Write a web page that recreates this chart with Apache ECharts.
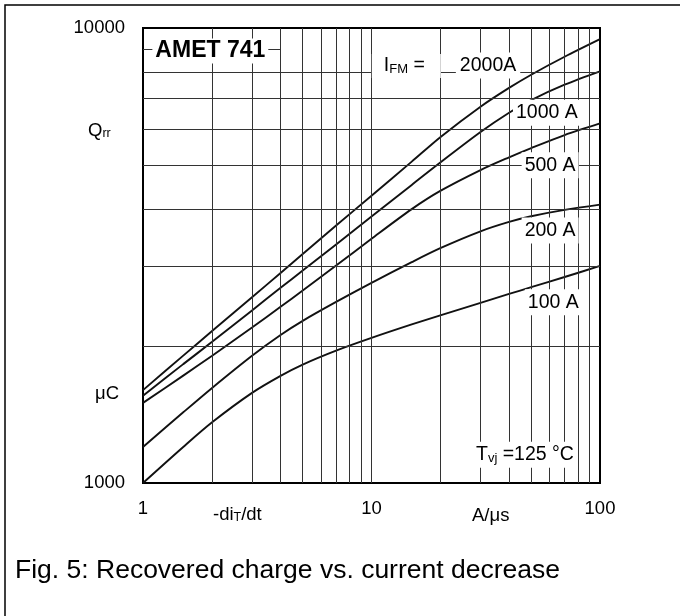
<!DOCTYPE html>
<html>
<head>
<meta charset="utf-8">
<script src="https://cdn.jsdelivr.net/npm/echarts@6/dist/echarts.min.js"></script>
<style>
  html, body { margin: 0; padding: 0; background: #fff; }
  #chart { width: 680px; height: 616px; }
</style>
</head>
<body>
<div id="chart"></div>
<script>
// -di/dt in A/us
var didt = [1, 1.5, 2, 3, 4, 5, 7, 10, 15, 20, 30, 40, 50, 70, 100];
// Qrr in uC (Tvj = 125 C)
var q2000 = [1600, 1905, 2155, 2560, 2895, 3185, 3680, 4280, 5085, 5755, 6715, 7385, 7895, 8645, 9450];
var q1000 = [1555, 1825, 2040, 2395, 2685, 2930, 3345, 3850, 4520, 5060, 5905, 6510, 6945, 7505, 8030];
var q500 = [1500, 1722, 1902, 2196, 2439, 2649, 3005, 3442, 3999, 4385, 4873, 5198, 5447, 5818, 6170];
var q200 = [1200, 1430, 1616, 1904, 2115, 2272, 2500, 2753, 3058, 3282, 3574, 3748, 3857, 3983, 4091];
var q100 = [1000, 1200, 1358, 1578, 1720, 1821, 1954, 2084, 2231, 2336, 2489, 2603, 2694, 2836, 3000];

var xTicks = [1, 10, 100];
var yTicks = [1000, 10000];
var xGrid = [2, 3, 4, 5, 6, 7, 8, 9, 10, 20, 30, 40, 50, 60, 70, 80, 90];
var yGrid = [2000, 3000, 4000, 5000, 6000, 7000, 8000];

var FONT = '"Liberation Sans", Arial, Helvetica, sans-serif';
var chart = echarts.init(document.getElementById('chart'));

function pairs(ys) {
  return didt.map(function (x, i) { return [x, ys[i]]; });
}

function curve(name, ys) {
  return {
    name: name, type: 'line', data: pairs(ys), smooth: 0.3,
    showSymbol: false, symbol: 'none', silent: true, z: 3,
    lineStyle: { color: '#111', width: 1.9 }
  };
}

var gridLines = xGrid.map(function (v) { return { xAxis: v }; })
  .concat(yGrid.map(function (v) { return { yAxis: v }; }))
  .concat([[{ coord: [1, 9000] }, { coord: [4, 9000] }]]);

chart.setOption({
  animation: false,
  backgroundColor: '#fff',
  grid: { left: 143, top: 28, width: 457, height: 455, show: true, borderColor: '#000', borderWidth: 2 },
  xAxis: {
    type: 'log', logBase: 10, min: 1, max: 100,
    axisLine: { show: false }, axisTick: { show: false }, splitLine: { show: false },
    axisLabel: {
      color: '#000', fontSize: 18.5, fontFamily: FONT, margin: 16,
      formatter: function (v) { return xTicks.indexOf(Math.round(v)) >= 0 ? String(Math.round(v)) : ''; }
    }
  },
  yAxis: {
    type: 'log', logBase: 10, min: 1000, max: 10000,
    axisLine: { show: false }, axisTick: { show: false }, splitLine: { show: false },
    axisLabel: {
      color: '#000', fontSize: 18.5, fontFamily: FONT, margin: 18,
      formatter: function (v) { return yTicks.indexOf(Math.round(v)) >= 0 ? String(Math.round(v)) : ''; }
    }
  },
  series: [
    {
      type: 'line', data: [[1, 1000]], showSymbol: false, silent: true, z: 2,
      markLine: {
        silent: true, symbol: ['none', 'none'], animation: false,
        label: { show: false }, emphasis: { disabled: true },
        lineStyle: { color: '#333', width: 1, type: 'solid' },
        data: gridLines
      }
    },
    curve('2000A', q2000),
    curve('1000 A', q1000),
    curve('500 A', q500),
    curve('200 A', q200),
    curve('100 A', q100)
  ]
});

// annotations, anchored in data space (left edge, vertical middle)
var rich = {
  m: { fontSize: 19.5, fontFamily: FONT, lineHeight: 20, verticalAlign: 'bottom' },
  s: { fontSize: 13, fontFamily: FONT, lineHeight: 12, verticalAlign: 'bottom' }
};
var notes = [
  { at: [1.099, 8900], text: 'AMET 741', bold: true, pad: [1, 3] },
  { at: [10.03, 8250], text: '{m|I}{s|FM}{m| =}', pad: [2, 16, 2, 12] },
  { at: [23.4, 8270], text: '{m|2000A}', pad: [3, 4] },
  { at: [41.6, 6510], text: '{m|1000 A}', pad: [3, 3] },
  { at: [45.4, 4990], text: '{m|500 A}', pad: [3, 3] },
  { at: [45.4, 3590], text: '{m|200 A}', pad: [3, 3] },
  { at: [46.9, 2495], text: '{m|100 A}', pad: [3, 3] },
  { at: [27.8, 1154], text: '{m|T}{s|vj}{m| =125 °C}', pad: [3, 3] }
];

var graphics = notes.map(function (n) {
  var p = chart.convertToPixel({ gridIndex: 0 }, n.at);
  var style = {
    text: n.text, x: p[0], y: p[1], fill: '#000',
    align: 'left', verticalAlign: 'middle',
    backgroundColor: '#fff', padding: n.pad, rich: rich
  };
  if (n.bold) {
    style.font = 'bold 23px ' + FONT;
    style.rich = undefined;
  }
  return { type: 'text', z: 100, silent: true, style: style };
});

var axisRich = {
  m: { fontSize: 18.5, fontFamily: FONT, lineHeight: 20, verticalAlign: 'bottom' },
  s: { fontSize: 12.5, fontFamily: FONT, lineHeight: 12, verticalAlign: 'bottom' }
};
function plain(text, x, y, size) {
  return { type: 'text', z: 100, silent: true,
    style: { text: text, x: x, y: y, fill: '#000', align: 'left', verticalAlign: 'middle', font: size + 'px ' + FONT } };
}
function richText(text, x, y) {
  return { type: 'text', z: 100, silent: true,
    style: { text: text, x: x, y: y, fill: '#000', align: 'left', verticalAlign: 'middle', rich: axisRich } };
}

graphics.push(richText('{m|Q}{s|rr}', 88, 130));
graphics.push(richText('{m|μC}', 95, 393));
graphics.push(richText('{m|-di}{s|T}{m|/dt}', 213, 514));
graphics.push(richText('{m|A/μs}', 472, 515));
graphics.push(plain('Fig. 5: Recovered charge vs. current decrease', 15, 571, 26.5));
graphics.push({
  type: 'rect', z: 100, silent: true,
  shape: { x: 5, y: 5, width: 720, height: 720 },
  style: { fill: 'none', stroke: '#000', lineWidth: 1.5 }
});

chart.setOption({ graphic: graphics });
</script>
</body>
</html>
